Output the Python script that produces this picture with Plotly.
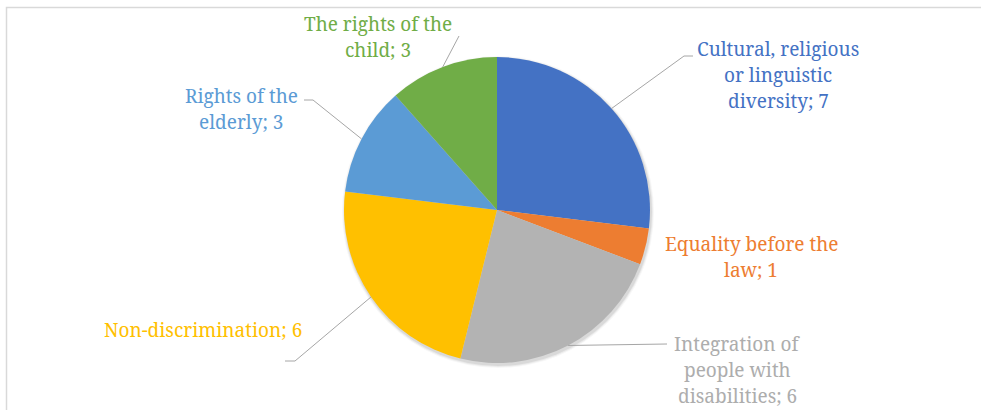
import math
import plotly.graph_objects as go

# Data
categories = [
    "Cultural, religious or linguistic diversity",
    "Equality before the law",
    "Integration of people with disabilities",
    "Non-discrimination",
    "Rights of the elderly",
    "The rights of the child",
]
values = [7, 1, 6, 6, 3, 3]
label_lines = [
    ["Cultural, religious", "or linguistic", "diversity; 7"],
    ["Equality before the", "law; 1"],
    ["Integration of", "people with", "disabilities; 6"],
    ["Non-discrimination; 6"],
    ["Rights of the", "elderly; 3"],
    ["The rights of the", "child; 3"],
]
slice_colors = ["#4472C4", "#ED7D31", "#B3B3B3", "#FFC000", "#5B9BD5", "#70AD47"]
text_colors = ["#4472C4", "#ED7D31", "#ADADAD", "#FFC000", "#5B9BD5", "#70AD47"]

W, H = 981, 410
FONT = "Noto Serif, DejaVu Serif, serif"
FONT_SIZE = 19
LINE_GAP = 26

# Pie placement in pixels
cx, cy, r = 497, 210, 153

def px(x):
    return x / W

def py(y):
    return 1 - y / H

# Label positions: x centre and y of the first line (pixels); leader-line elbows
label_pos = [(778, 49), (751, 244), (737, 344), (203, 330), (241, 96), (378, 24)]
leader_path = [
    [(684, 56), (693, 56)],
    None,
    [(667, 344)],
    [(295, 361), (285, 361)],
    [(313, 100), (304, 100)],
    [(459, 36)],
]

fig = go.Figure()
fig.add_trace(go.Pie(
    labels=categories,
    values=values,
    sort=False,
    direction="clockwise",
    rotation=0,
    marker=dict(colors=slice_colors, line=dict(width=0)),
    textinfo="none",
    hoverinfo="label+value",
    showlegend=False,
    domain=dict(x=[px(cx - r), px(cx + r)], y=[py(cy + r), py(cy - r)]),
))

shapes = []
# Chart-area frame
shapes.append(dict(type="rect", xref="paper", yref="paper",
                   x0=px(6.5), x1=px(W + 20), y0=py(H + 20), y1=py(7.5),
                   line=dict(color="#D9D9D9", width=1.5), fillcolor="rgba(0,0,0,0)",
                   layer="below"))
# Soft drop shadow under the pie
for dr, op in [(3, 0.03), (2, 0.05), (1, 0.07)]:
    shapes.append(dict(type="circle", xref="paper", yref="paper",
                       x0=px(cx - r - dr + 1), x1=px(cx + r + dr + 1),
                       y0=py(cy + r + dr + 2), y1=py(cy - r - dr + 2),
                       line=dict(width=0), fillcolor=f"rgba(0,0,0,{op})",
                       layer="below"))

# Leader lines start at each slice's mid-angle on the rim
total = sum(values)
cum = 0
for v, path in zip(values, leader_path):
    mid = (cum + v / 2) / total * 2 * math.pi
    cum += v
    if path is None:
        continue
    sx = cx + r * math.sin(mid)
    sy = cy - r * math.cos(mid)
    pts = [(sx, sy)] + path
    for (x0, y0), (x1, y1) in zip(pts[:-1], pts[1:]):
        shapes.append(dict(type="line", xref="paper", yref="paper",
                           x0=px(x0), y0=py(y0), x1=px(x1), y1=py(y1),
                           line=dict(color="#A6A6A6", width=1)))

# Data labels: category name and value, one annotation per text line
annotations = []
for lines, col, (lx, ly) in zip(label_lines, text_colors, label_pos):
    for i, line in enumerate(lines):
        annotations.append(dict(
            text=line, x=px(lx), y=py(ly + i * LINE_GAP), xref="paper", yref="paper",
            xanchor="center", yanchor="middle", align="center", showarrow=False,
            font=dict(family=FONT, size=FONT_SIZE, color=col),
        ))

fig.update_layout(
    width=W, height=H,
    margin=dict(l=0, r=0, t=0, b=0),
    paper_bgcolor="white",
    plot_bgcolor="white",
    shapes=shapes,
    annotations=annotations,
)

fig.write_html("out.html")
